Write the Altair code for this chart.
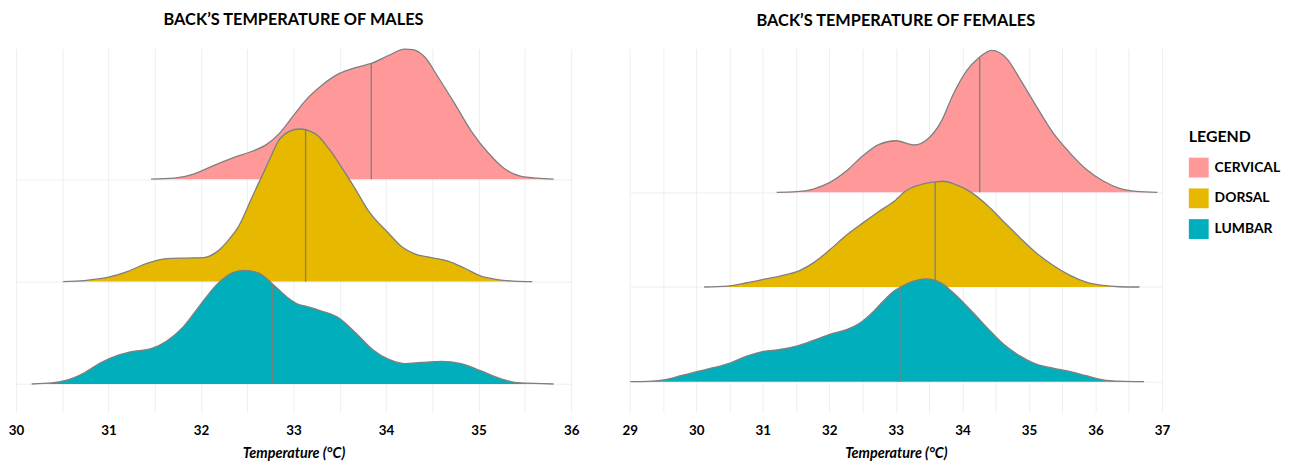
import altair as alt
import pandas as pd

SERIES = ["CERVICAL", "DORSAL", "LUMBAR"]
COLORS = ["#FF9999", "#E6B800", "#00AFBB"]
ROW = [2, 1, 0]  # ridge baseline index (top to bottom)

# ---------------- MALES ----------------
male_cervical_t = [31.46, 31.71, 31.92, 32.13, 32.35, 32.56, 32.71, 32.85, 32.99, 33.13, 33.31, 33.49, 33.67,
                   33.84, 34.03, 34.20, 34.29, 34.42, 34.56, 34.74, 34.92, 35.10, 35.27, 35.45, 35.63, 35.81]
male_cervical_h = [0.0, 0.01, 0.05, 0.13, 0.21, 0.275, 0.34, 0.45, 0.61, 0.77, 0.92, 1.03, 1.09,
                   1.13, 1.21, 1.27, 1.265, 1.19, 1.0, 0.74, 0.47, 0.26, 0.11, 0.03, 0.01, 0.0]

male_dorsal_t = [30.51, 30.74, 30.99, 31.21, 31.42, 31.63, 31.85, 32.03, 32.17, 32.31, 32.40, 32.56, 32.71,
                 32.85, 32.96, 33.06, 33.24, 33.38, 33.53, 33.67, 33.81, 34.03, 34.17, 34.31, 34.49, 34.67,
                 34.85, 35.02, 35.20, 35.38, 35.58]
male_dorsal_h = [0.0, 0.01, 0.04, 0.10, 0.18, 0.225, 0.23, 0.235, 0.29, 0.42, 0.53, 0.84, 1.13,
                 1.39, 1.47, 1.49, 1.44, 1.30, 1.10, 0.90, 0.69, 0.47, 0.34, 0.27, 0.235, 0.20,
                 0.13, 0.055, 0.02, 0.005, 0.0]

male_lumbar_t = [30.17, 30.39, 30.56, 30.74, 30.92, 31.10, 31.28, 31.46, 31.63, 31.81, 31.99, 32.17, 32.35,
                 32.47, 32.63, 32.77, 32.92, 33.06, 33.13, 33.31, 33.49, 33.67, 33.85, 34.03, 34.20, 34.38,
                 34.60, 34.81, 35.02, 35.24, 35.45, 35.81]
male_lumbar_h = [0.0, 0.01, 0.04, 0.11, 0.21, 0.28, 0.32, 0.345, 0.42, 0.56, 0.77, 0.97, 1.09,
                 1.11, 1.08, 0.98, 0.855, 0.775, 0.76, 0.71, 0.645, 0.50, 0.34, 0.24, 0.20, 0.21,
                 0.22, 0.20, 0.13, 0.05, 0.01, 0.0]

male_median_t = [33.84, 33.13, 32.77]
male_median_h = [1.13, 1.48, 0.98]

# ---------------- FEMALES ----------------
female_cervical_t = [31.21, 31.51, 31.76, 32.01, 32.26, 32.50, 32.75, 33.0, 33.28, 33.47, 33.67, 33.87, 34.07,
                     34.26, 34.44, 34.67, 34.87, 35.11, 35.36, 35.61, 35.86, 36.11, 36.36, 36.61, 36.93]
female_cervical_h = [0.0, 0.007, 0.035, 0.105, 0.227, 0.384, 0.506, 0.545, 0.50, 0.558, 0.733, 1.047, 1.29,
                     1.43, 1.50, 1.41, 1.19, 0.91, 0.63, 0.42, 0.244, 0.122, 0.042, 0.01, 0.0]

female_dorsal_t = [30.12, 30.47, 30.76, 31.01, 31.26, 31.56, 31.76, 32.01, 32.26, 32.50, 32.75, 33.0, 33.13,
                   33.37, 33.59, 33.70, 33.87, 34.12, 34.37, 34.62, 34.87, 35.11, 35.36, 35.61, 35.86, 36.11,
                   36.36, 36.66]
female_dorsal_h = [0.0, 0.01, 0.045, 0.08, 0.115, 0.175, 0.255, 0.395, 0.55, 0.675, 0.80, 0.92, 1.005,
                   1.08, 1.11, 1.117, 1.09, 1.005, 0.866, 0.69, 0.516, 0.36, 0.23, 0.126, 0.052, 0.017,
                   0.003, 0.0]

female_lumbar_t = [29.01, 29.27, 29.52, 29.77, 30.02, 30.27, 30.52, 30.76, 31.01, 31.26, 31.51, 31.76, 32.01,
                   32.26, 32.46, 32.66, 32.85, 33.0, 33.06, 33.28, 33.45, 33.67, 33.87, 34.12, 34.37, 34.62,
                   34.87, 35.11, 35.36, 35.61, 35.86, 36.11, 36.36, 36.73]
female_lumbar_h = [0.0, 0.003, 0.02, 0.063, 0.108, 0.15, 0.20, 0.27, 0.32, 0.34, 0.377, 0.436, 0.50,
                   0.55, 0.62, 0.74, 0.88, 0.97, 0.995, 1.065, 1.086, 1.047, 0.935, 0.76, 0.57, 0.395,
                   0.27, 0.185, 0.143, 0.108, 0.063, 0.02, 0.005, 0.0]

female_median_t = [34.26, 33.59, 33.06]
female_median_h = [1.43, 1.11, 0.995]

male_ticks = [30 + 0.5 * i for i in range(13)]
female_ticks = [29 + 0.5 * i for i in range(17)]

FONT = "Lato"
OUTLINE = "#7F7F7F"
GRID = "#EEEEEE"


def panel(curves, med_t, med_h, xdom, ydom, xvals, width, height, title):
    rows = []
    for s, r, (ts, hs) in zip(SERIES, ROW, curves):
        for t, h in zip(ts, hs):
            rows.append({"series": s, "t": t, "base": r, "top": r + h})
    df = pd.DataFrame(rows)
    med = pd.DataFrame({"series": SERIES, "t": med_t, "base": ROW,
                        "top": [r + h for r, h in zip(ROW, med_h)]})

    xscale = alt.Scale(domain=xdom, nice=False, zero=False)
    yscale = alt.Scale(domain=ydom, nice=False, zero=False)
    xaxis = alt.Axis(values=xvals, format=".1f",
                     labelExpr="datum.value % 1 === 0 ? format(datum.value, 'd') : ''",
                     labelFlush=False, labelOverlap=False, ticks=False, domain=False,
                     grid=True, gridColor=GRID, gridWidth=1,
                     labelFont=FONT, labelFontSize=13.5, labelFontWeight="bold", labelColor="black",
                     labelPadding=11,
                     title="Temperature (°C)", titleFont=FONT, titleFontSize=14.5,
                     titleFontWeight="bold", titleFontStyle="italic", titleColor="black",
                     titlePadding=10)
    yaxis = alt.Axis(values=[0, 1, 2], labels=False, ticks=False, domain=False, title=None,
                     grid=True, gridColor=GRID, gridWidth=1)
    color = alt.Color("series:N", scale=alt.Scale(domain=SERIES, range=COLORS), title="LEGEND")
    xe = alt.X("t:Q", scale=xscale, axis=xaxis)
    ye = alt.Y("top:Q", scale=yscale, axis=yaxis)

    layers = []
    for s in SERIES:
        d = df[df.series == s]
        m = med[med.series == s]
        area = alt.Chart(d).mark_area(interpolate="monotone", opacity=1).encode(
            x=xe, y=ye, y2="base:Q", color=color)
        line = alt.Chart(d).mark_line(interpolate="monotone", color=OUTLINE, strokeWidth=1.3).encode(
            x=xe, y=ye)
        rule = alt.Chart(m).mark_rule(color=OUTLINE, strokeWidth=1.3).encode(
            x=xe, y=ye, y2="base:Q")
        layers += [area, line, rule]

    return alt.layer(*layers).properties(
        width=width, height=height,
        title=alt.TitleParams(text=title, font=FONT, fontSize=16.5, fontWeight="bold",
                              color="black", anchor="middle", offset=18))


left = panel([(male_cervical_t, male_cervical_h), (male_dorsal_t, male_dorsal_h),
              (male_lumbar_t, male_lumbar_h)],
             male_median_t, male_median_h, [30, 36], [-0.278, 3.275], male_ticks, 560, 367,
             "BACK’S TEMPERATURE OF MALES")
right = panel([(female_cervical_t, female_cervical_h), (female_dorsal_t, female_dorsal_h),
               (female_lumbar_t, female_lumbar_h)],
              female_median_t, female_median_h, [29, 37], [-0.325, 3.518], female_ticks, 537, 367,
              "BACK’S TEMPERATURE OF FEMALES")

chart = alt.hconcat(left, right, spacing=43).properties(
    padding={"left": 0, "top": 2, "right": 5, "bottom": 0}
).configure_view(stroke=None).configure_legend(
    orient="none", legendX=1183, legendY=81,
    titleFont=FONT, titleFontSize=16, titleFontWeight="bold", titleColor="black", titlePadding=13,
    labelFont=FONT, labelFontSize=14, labelFontWeight="bold", labelColor="black", labelOffset=6,
    symbolType="square", symbolSize=400, symbolStrokeWidth=0, symbolOpacity=1, rowPadding=11,
)

chart.save("out.html", embed_options={"renderer": "svg", "actions": False})
